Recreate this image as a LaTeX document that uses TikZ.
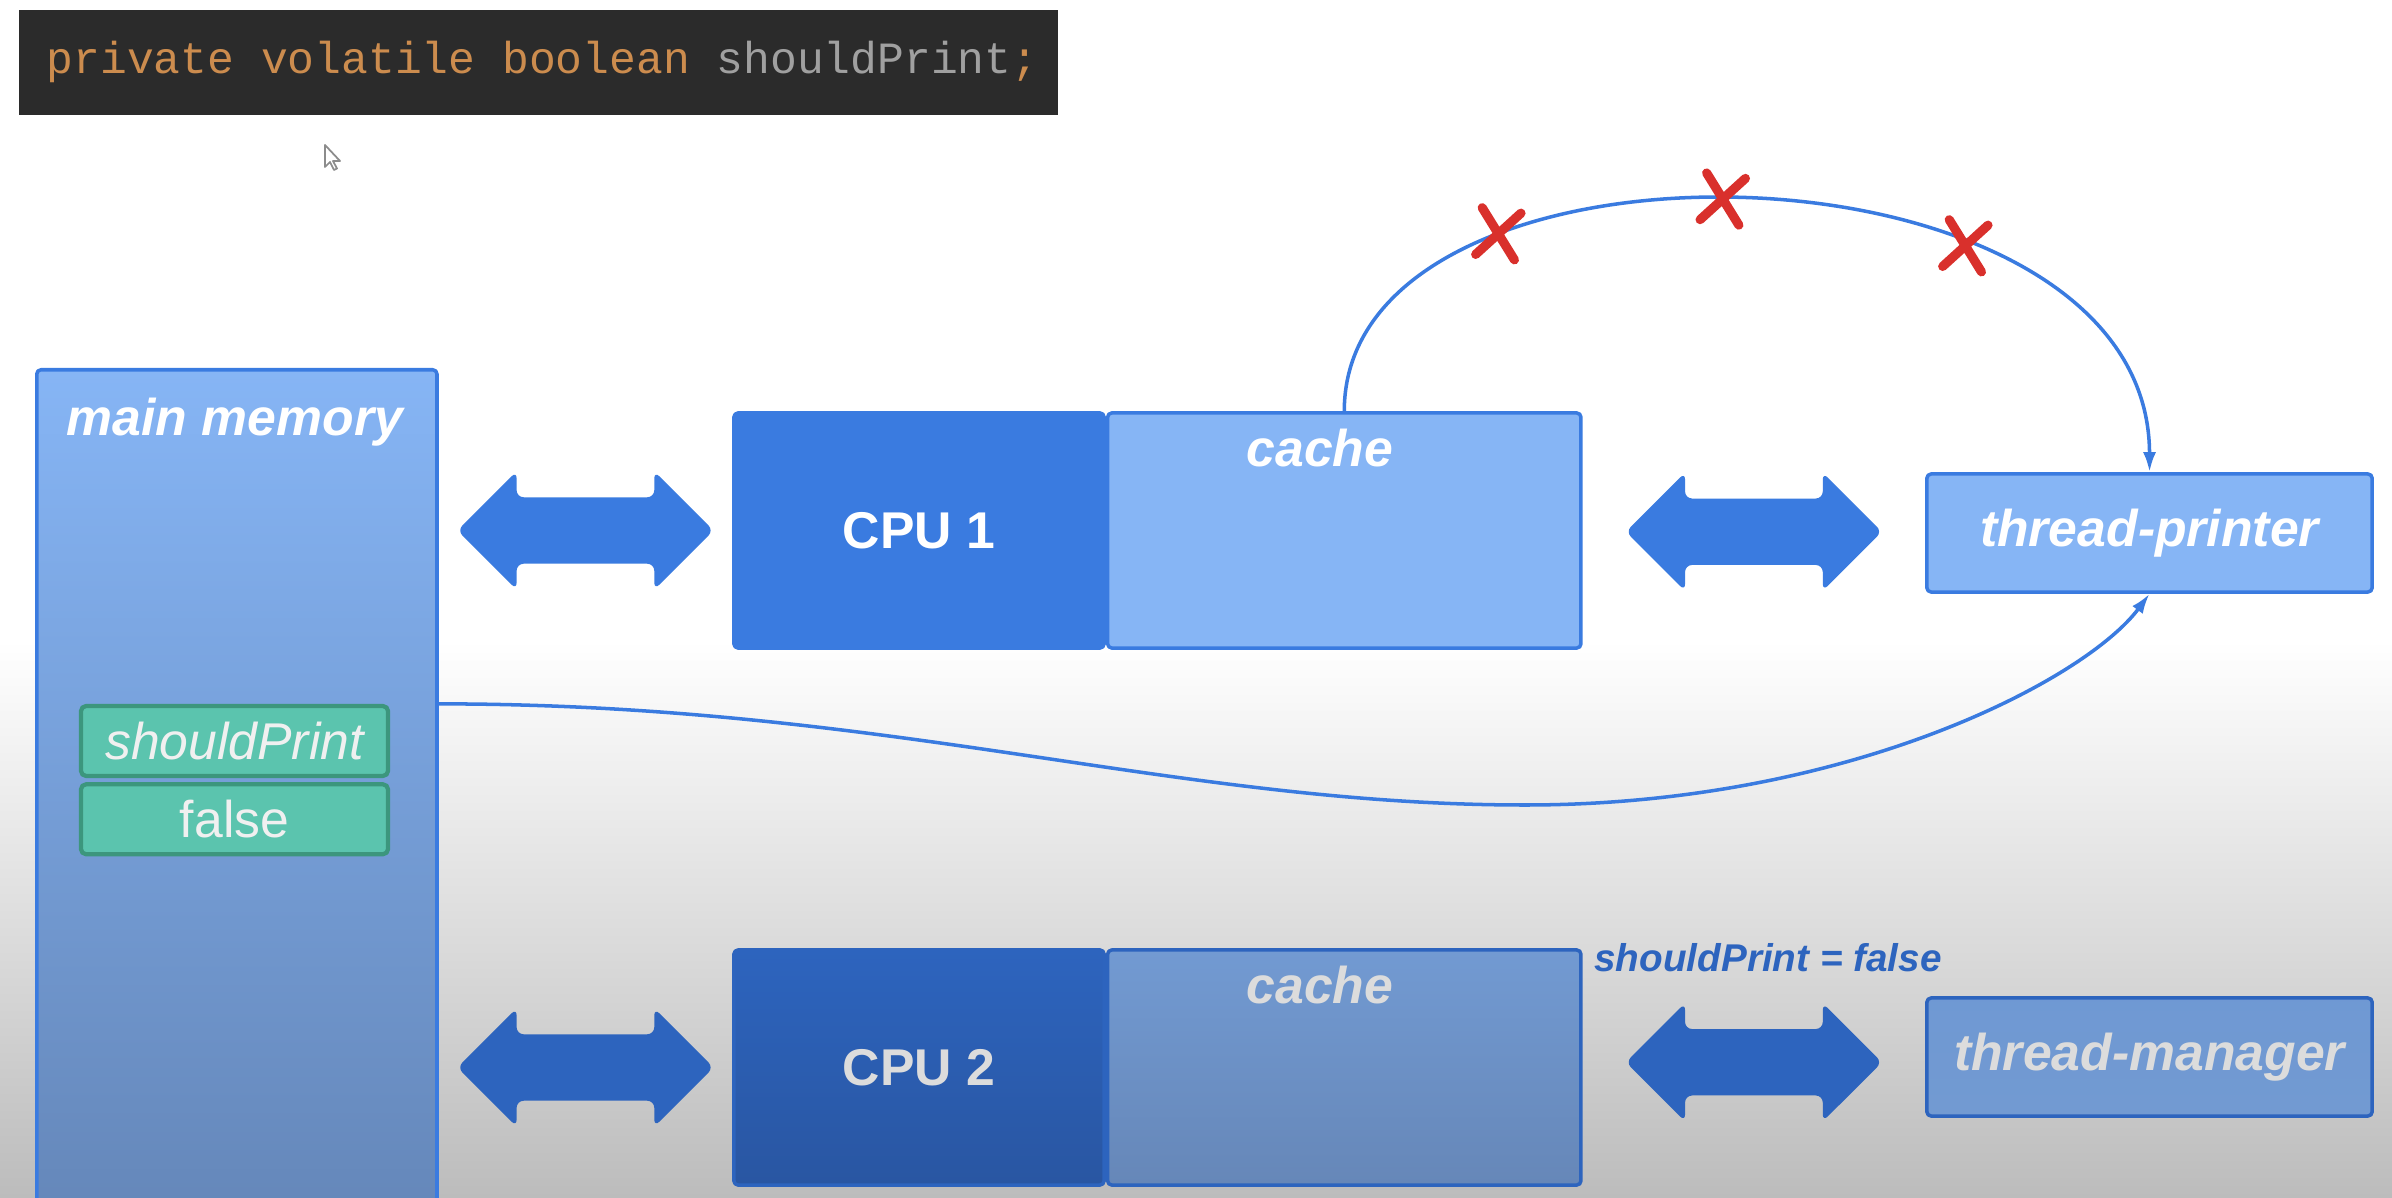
\documentclass[tikz,border=0pt]{standalone}
\usepackage{fontspec}
\setmainfont{Liberation Sans}
\setmonofont{Liberation Mono}
\usetikzlibrary{positioning,calc,shapes.arrows,shapes.misc,arrows.meta}

\definecolor{codebg}{HTML}{2B2B2B}
\definecolor{codeorange}{HTML}{CC8C4E}
\definecolor{codegray}{HTML}{A0A0A0}
\definecolor{cpublue}{HTML}{3A7BE0}
\definecolor{cacheblue}{HTML}{86B5F5}
\definecolor{cpudark}{HTML}{2D64BE}
\definecolor{cpudarker}{HTML}{2956A2}
\definecolor{cachedark}{HTML}{729AD2}
\definecolor{cachedarker}{HTML}{6687B8}
\definecolor{membot}{HTML}{6486B8}
\definecolor{varfill}{HTML}{5BC4AE}
\definecolor{varline}{HTML}{3C967D}
\definecolor{crossred}{HTML}{D9302C}
\definecolor{fadetext}{HTML}{DCDCDC}
\definecolor{bgbot}{HTML}{BCBCBC}

\newcommand{\boxfont}{\fontsize{14.7}{17}\selectfont}
\newcommand{\notefont}{\fontsize{11}{13}\selectfont}

\begin{document}
\begin{tikzpicture}[
  x=0.01cm, y=-0.01cm,
  line join=round,
  every node/.style={font=\boxfont},
  block/.style={draw=cpublue, line width=1pt, rounded corners=1.2pt, inner sep=0pt},
  cpubox/.style={block, fill=cpublue, minimum width=3.7cm, minimum height=2.35cm,
    text=white, font=\boxfont\bfseries},
  cachebox/.style={block, fill=cacheblue, minimum width=4.73cm, minimum height=2.35cm},
  threadbox/.style={block, fill=cacheblue, minimum width=4.45cm, minimum height=1.18cm,
    text=white, font=\boxfont\bfseries\itshape},
  title/.style={text=white, font=\boxfont\bfseries\itshape},
  varbox/.style={draw=varline, fill=varfill, line width=1.2pt, rounded corners=1.5pt,
    minimum width=3.07cm, minimum height=0.7cm, inner sep=0pt, text=white!94!black},
  bus/.style={double arrow, fill=cpublue, draw=none, rounded corners=2pt,
    minimum height=2.56cm, inner xsep=0pt, inner ysep=0.325cm,
    double arrow head extend=0.26cm, double arrow tip angle=90},
  flow/.style={draw=cpublue, line width=1pt, -{Latex[length=0.2cm,width=0.13cm]}},
  xmark/.style={cross out, draw=crossred, line width=2.6pt, line cap=round,
    minimum width=0.3cm, minimum height=0.38cm, inner sep=0pt, rotate=-8}
]
  % Background, darker towards the bottom
  \fill[white] (0,0) rectangle (2392,1198);
  \shade[top color=white, bottom color=bgbot] (0,640) rectangle (2392,1198);
  \clip (0,0) rectangle (2392,1198);

  % Code line
  \node[fill=codebg, anchor=north west, minimum width=10.39cm, minimum height=1.05cm]
    (code) at (18,9) {};
  \node[anchor=west, inner sep=0pt, font=\ttfamily\fontsize{12.7}{15}\selectfont]
    (codetext) at ([xshift=0.28cm]code.west)
    {\textcolor{codeorange}{private volatile boolean}
      \textcolor{codegray}{shouldPrint}\textcolor{codeorange}{;}};

  % Mouse pointer
  \draw[draw=black!45, fill=white, line width=0.5pt]
    (325,145) -- (325,167) -- (330,162) -- (334,170) -- (337,168.5)
    -- (333,161) -- (340,161) -- cycle;

  % Main memory
  \node[block, anchor=north west, minimum width=4cm, minimum height=8.62cm,
        top color=cacheblue, middle color=cacheblue, bottom color=membot]
    (mem) at (35,368) {};
  \node[title] (memtitle) at (235,422) {main memory};
  \node[varbox, font=\boxfont\itshape] (sp) at (234.5,741) {shouldPrint};
  \node[varbox, below=0.04cm of sp] (fl) {false};

  % First CPU with its cache and thread
  \node[cpubox] (cpuA) at (919,530.5) {CPU 1};
  \node[cachebox, right=0pt of cpuA] (cacheA) {};
  \node[title] (cacheAtitle) at (1320,448) {cache};
  \node[threadbox] (tp) at (2149.5,533) {thread-printer};

  % Second CPU with its cache and thread
  \node[cpubox, draw=cpudark, top color=cpudark, bottom color=cpudarker,
        text=fadetext] (cpuB) at (919,1067.5) {CPU 2};
  \node[cachebox, draw=cpudark, top color=cachedark, bottom color=cachedarker,
        right=0pt of cpuB] (cacheB) {};
  \node[title, text=fadetext] (cacheBtitle) at (1320,985) {cache};
  \node[threadbox, draw=cpudark, top color=cachedark!95!cpublue,
        bottom color=cachedark, text=fadetext] (tm) at (2149.5,1057) {thread-manager};
  \node[anchor=west, text=cpudark, font=\notefont\bfseries\itshape]
    (spnote) at (1582,958) {shouldPrint = false};

  % Buses
  \node[bus] (busA1) at ($(mem.east |- cpuA.west)!0.5!(cpuA.west)$) {};
  \node[bus] (busA2) at ($(cacheA.east)!0.5!(tp.west)$) {};
  \node[bus, fill=cpudark] (busB1) at ($(mem.east |- cpuB.west)!0.5!(cpuB.west)$) {};
  \node[bus, fill=cpudark] (busB2) at ($(cacheB.east)!0.5!(tm.west)$) {};

  % Cache to thread (blocked)
  \draw[flow] (cacheA.north) .. controls +(0,-300) and +(0,-345) .. (tp.north)
    node[xmark, pos=0.28] (xa) {}
    node[xmark, pos=0.48] (xb) {}
    node[xmark, pos=0.69] (xc) {};

  % Main memory to thread
  \coordinate (dip) at (1525,805);
  \draw[flow] (mem.east |- sp.north) .. controls +(450,0) and +(-350,0) .. (dip)
    .. controls +(325,0) and +(-63,85) .. (tp.south);
\end{tikzpicture}
\end{document}
